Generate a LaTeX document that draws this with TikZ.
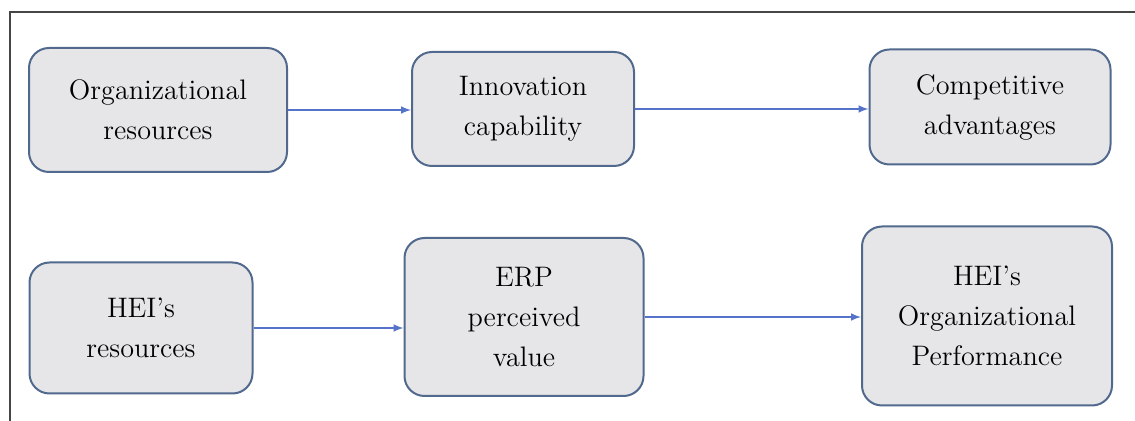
\documentclass[tikz,border=0pt]{standalone}
\usetikzlibrary{shapes,arrows}

\definecolor{boxfill}{RGB}{230,230,233}
\definecolor{boxline}{RGB}{80,105,140}
\definecolor{arrowblue}{RGB}{85,115,200}
\definecolor{framegray}{RGB}{70,70,70}

\begin{document}
\begin{tikzpicture}[
			x = 0.5pt, y = -0.5pt,
			> = latex,
			semithick]

			\tikzstyle{every node}=[
			font = \fontsize{14.1}{20}\selectfont]

			\tikzstyle{block}=[
			draw = boxline,
			line width = 1pt,
			fill = boxfill,
			rounded corners = 10pt,
			align = center,
			inner sep = 0pt]

			\tikzstyle{link}=[
			->,
			color = arrowblue,
			line width = 0.7pt]

			\useasboundingbox (0,0) rectangle (1135,421);

			% frame
			\draw[framegray, line width = 1pt] (10,421) -- (10,12) -- (1135,12);

			% upper row
			\node[block, minimum width = 129pt, minimum height = 62pt] (orgres) at (158,110) {Organizational\\resources};
			\node[block, minimum width = 111pt, minimum height = 57pt] (innov) at (523,109) {Innovation\\capability};
			\node[block, minimum width = 120.5pt, minimum height = 57.5pt] (compadv) at (990,107) {Competitive\\advantages};

			% lower row
			\node[block, minimum width = 111.5pt, minimum height = 65.5pt] (heires) at (141,328) {HEI's\\resources};
			\node[block, minimum width = 119.5pt, minimum height = 79pt] (erp) at (524,317) {ERP\\perceived\\value};
			\node[block, minimum width = 125pt, minimum height = 89.5pt] (heiperf) at (987,316) {HEI's\\Organizational\\Performance};

			\draw[link] (orgres.east) -- (orgres.east -| innov.west);
			\draw[link] (innov.east) -- (innov.east -| compadv.west);
			\draw[link] (heires.east) -- (heires.east -| erp.west);
			\draw[link] (erp.east) -- (erp.east -| heiperf.west);
		\end{tikzpicture}
\end{document}
